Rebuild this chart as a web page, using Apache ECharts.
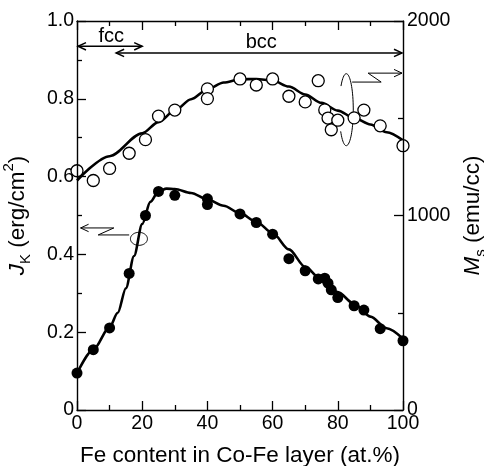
<!DOCTYPE html>
<html>
<head>
<meta charset="utf-8">
<title>Exchange coupling and magnetization vs Fe content</title>
<script src="https://cdn.jsdelivr.net/npm/echarts@6/dist/echarts.min.js"></script>
<style>
  html, body { margin: 0; padding: 0; background: #fff; }
  #wrap { position: relative; width: 484px; height: 466px; }
  #main, #frame { position: absolute; left: 0; top: 0; width: 484px; height: 466px; }
  #frame { pointer-events: none; }
</style>
</head>
<body>
<div id="wrap">
  <div id="main"></div>
  <div id="frame"></div>
</div>
<script>
// Fe content (at.%) of the measured samples
const jkFe = [0, 5, 10, 16, 21, 25, 30, 40, 40, 50, 55, 60, 65, 70, 74, 76, 77, 78, 80, 85, 88, 93, 100];
// Interlayer coupling J_K (erg/cm^2), filled circles, left axis
const jkVal = [0.095, 0.155, 0.211, 0.351, 0.500, 0.562, 0.552, 0.543, 0.528, 0.504, 0.482, 0.452,
               0.389, 0.358, 0.337, 0.339, 0.326, 0.309, 0.289, 0.268, 0.257, 0.209, 0.178];

const msFe = [0, 5, 10, 16, 21, 25, 30, 40, 40, 50, 55, 60, 65, 70, 74, 76, 77, 78, 80, 85, 88, 93, 100];
// Saturation magnetization M_s (emu/cc), open circles, right axis
const msVal = [1230, 1180, 1242, 1320, 1390, 1511, 1542, 1651, 1601, 1702, 1671, 1702,
               1613, 1584, 1693, 1543, 1501, 1441, 1490, 1502, 1542, 1461, 1359];

// Guide curve drawn through the J_K data
const jkFitFe  = [0, 5, 10, 12.5, 15, 17.5, 20, 22.5, 25, 27.5, 30, 35, 40, 45, 50, 55, 60, 65, 70, 75, 80, 85, 90, 95, 100];
const jkFitVal = [0.094, 0.155, 0.213, 0.250, 0.313, 0.396, 0.478, 0.535, 0.562, 0.569, 0.568, 0.558, 0.541,
                  0.525, 0.506, 0.484, 0.455, 0.413, 0.368, 0.335, 0.303, 0.273, 0.240, 0.210, 0.183];

// Guide curve drawn through the M_s data
const msFitFe  = [0, 10, 20, 25, 30, 35, 40, 45, 50, 55, 60, 65, 70, 75, 80, 85, 90, 95, 100];
const msFitVal = [1180, 1305, 1423, 1480, 1540, 1598, 1648, 1684, 1700, 1702, 1694, 1663, 1622, 1579,
                  1539, 1502, 1468, 1428, 1386];

// Tick labels
const feTickLabels = ['0', '20', '40', '60', '80', '100'];
const jkTickLabels = ['0', '0.2', '0.4', '0.6', '0.8', '1.0'];
const msTickLabels = ['0', '1000', '2000'];

// Phase ranges (Fe at.%)
const fccRange = [0, 20];
const bccRange = [12, 100];

const FONT = '"Liberation Sans", Arial, Helvetica, sans-serif';
const INK = '#000';
const FE_STEP = 20, JK_STEP = 0.2, MS_STEP = 1000, MS_MAX = 2000;
const GRID = { left: 77, right: 81, top: 21, bottom: 56, outerBoundsMode: 'none' };

function zip(xs, ys) { return xs.map((x, i) => [x, ys[i]]); }

function labelFont(extra) {
  return Object.assign({ show: true, color: INK, fontSize: 19.5, fontFamily: FONT }, extra);
}
function nameRich() {
  return {
    n:   { fontSize: 22.5, fontFamily: FONT, color: INK, verticalAlign: 'bottom', padding: [0, 0, 4, 0] },
    i:   { fontSize: 22.5, fontFamily: FONT, color: INK, fontStyle: 'italic', verticalAlign: 'bottom', padding: [0, 0, 4, 0] },
    sub: { fontSize: 15, fontFamily: FONT, color: INK, verticalAlign: 'bottom', padding: [0, 0, 0, 0] },
    sup: { fontSize: 15, fontFamily: FONT, color: INK, verticalAlign: 'bottom', padding: [0, 0, 17, 0] }
  };
}
const noLine = { show: false };

// ---- annotation helpers (pixel geometry around data anchors) ----
function head(tip, dir) {
  // open V arrowhead; dir = 1 points right, -1 points left
  return [[tip[0] - dir * 8, tip[1] - 3.7], tip, [tip[0] - dir * 8, tip[1] + 3.7]];
}
function arcPts(c, rx, ry, a0, a1) {
  const pts = [];
  const n = 60;
  for (let k = 0; k <= n; k++) {
    const t = (a0 + (a1 - a0) * k / n) * Math.PI / 180;
    pts.push([c[0] + rx * Math.cos(t), c[1] + ry * Math.sin(t)]);
  }
  return pts;
}
function poly(points, width) {
  return { type: 'polyline', shape: { points: points },
           style: { stroke: INK, lineWidth: width, fill: null } };
}
function label(text, at) {
  return { type: 'text', x: at[0], y: at[1],
           style: { text: text, fill: INK, fontSize: 20, fontFamily: FONT,
                    align: 'center', verticalAlign: 'middle' } };
}

function renderNotes(params, api) {
  const P = (fe, jk) => api.coord([fe, jk]);
  const els = [];

  // fcc / bcc phase ranges
  const fccY = 0.935, bccY = 0.918;
  const fA = P(fccRange[0], fccY), fB = P(fccRange[1], fccY);
  fA[0] += 1;
  els.push(poly([fA, fB], 1.5), poly(head(fA, -1), 1.5), poly(head(fB, 1), 1.5));
  const bA = P(bccRange[0], bccY), bB = P(bccRange[1], bccY);
  bB[0] -= 1;
  els.push(poly([bA, bB], 1.5), poly(head(bA, -1), 1.5), poly(head(bB, 1), 1.5));
  els.push(label('fcc', P(10.5, 0.961)), label('bcc', P(56.5, 0.946)));

  // loop on the M_s curve pointing to the right axis
  els.push(poly(arcPts(P(82.6, 0.772), 7, 36, 221, 503), 1));
  const m4 = P(100, 0.866);
  m4[0] -= 1;
  els.push(poly([P(84.4, 0.843), P(93.3, 0.843), P(89.3, 0.866), m4], 1), poly(head(m4, 1), 1));

  // loop on the J_K curve pointing to the left axis
  els.push(poly(arcPts(P(19.0, 0.440), 8.5, 6.5, 160, 520), 1));
  const j1 = P(1.1, 0.468);
  els.push(poly([j1, P(11.3, 0.468), P(6.5, 0.450), P(16.0, 0.450)], 1), poly(head(j1, -1), 1));

  return { type: 'group', children: els };
}

// ---- data layer: labels, titles, curves, points, annotations ----
const option = {
  animation: false,
  grid: GRID,
  xAxis: [
    {
      type: 'value', position: 'bottom', min: 0, max: 100, interval: FE_STEP,
      axisLine: noLine, axisTick: noLine, minorTick: noLine,
      splitLine: noLine, minorSplitLine: noLine,
      axisLabel: labelFont({ margin: 4, formatter: v => feTickLabels[Math.round(v / FE_STEP)] }),
      name: 'Fe content in Co-Fe layer (at.%)',
      nameLocation: 'middle', nameGap: 34,
      nameTextStyle: { color: INK, fontSize: 22.5, fontFamily: FONT }
    }
  ],
  yAxis: [
    {
      type: 'value', position: 'left', min: 0, max: 1, interval: JK_STEP,
      axisLine: noLine, axisTick: noLine, minorTick: noLine,
      splitLine: noLine, minorSplitLine: noLine,
      axisLabel: labelFont({ margin: 3, formatter: v => jkTickLabels[Math.round(v / JK_STEP)] }),
      name: '{i|J}{sub|K}{n| (erg/cm}{sup|2}{n|)}',
      nameLocation: 'middle', nameGap: 44,
      nameTextStyle: { rich: nameRich() }
    },
    {
      type: 'value', position: 'right', min: 0, max: MS_MAX, interval: MS_STEP,
      axisLine: noLine, axisTick: noLine, minorTick: noLine,
      splitLine: noLine, minorSplitLine: noLine,
      axisLabel: labelFont({ margin: 4, formatter: v => msTickLabels[Math.round(v / MS_STEP)] }),
      name: '{i|M}{sub|s}{n| (emu/cc)}',
      nameLocation: 'middle', nameGap: 56,
      nameTextStyle: { rich: nameRich() }
    }
  ],
  series: [
    {
      name: 'J_K fit', type: 'line', xAxisIndex: 0, yAxisIndex: 0,
      data: zip(jkFitFe, jkFitVal), smooth: 0.3, smoothMonotone: 'x',
      symbol: 'none', lineStyle: { color: INK, width: 2.6 }, z: 2
    },
    {
      name: 'M_s fit', type: 'line', xAxisIndex: 0, yAxisIndex: 1,
      data: zip(msFitFe, msFitVal), smooth: 0.3, smoothMonotone: 'x',
      symbol: 'none', lineStyle: { color: INK, width: 2.6 }, z: 2
    },
    {
      name: 'J_K', type: 'scatter', xAxisIndex: 0, yAxisIndex: 0,
      data: zip(jkFe, jkVal), symbol: 'circle', symbolSize: 11,
      itemStyle: { color: INK, opacity: 1 }, z: 3
    },
    {
      name: 'M_s', type: 'scatter', xAxisIndex: 0, yAxisIndex: 1,
      data: zip(msFe, msVal), symbol: 'circle', symbolSize: 12,
      itemStyle: { color: '#fff', borderColor: INK, borderWidth: 1.3, opacity: 1 }, z: 4
    },
    {
      name: 'notes', type: 'custom', xAxisIndex: 0, yAxisIndex: 0,
      data: [[0, 0]], renderItem: renderNotes, silent: true, clip: false, z: 1
    }
  ]
};

// ---- frame layer: the four axis lines with inward ticks ----
function frameAxis(extra) {
  return Object.assign({
    type: 'value',
    axisLine: { show: true, onZero: false, lineStyle: { color: INK, width: 1.4 } },
    axisTick: { show: true, inside: true, length: 9, lineStyle: { color: INK, width: 1.3 } },
    minorTick: { show: true, splitNumber: 2, length: 5, lineStyle: { color: INK, width: 1.3 } },
    axisLabel: { show: false },
    splitLine: { show: false }
  }, extra);
}
const frameOption = {
  animation: false,
  backgroundColor: 'transparent',
  grid: GRID,
  xAxis: [
    frameAxis({ position: 'bottom', min: 0, max: 100, interval: FE_STEP }),
    frameAxis({ position: 'top', min: 0, max: 100, interval: FE_STEP })
  ],
  yAxis: [
    frameAxis({ position: 'left', min: 0, max: 1, interval: JK_STEP }),
    frameAxis({ position: 'right', min: 0, max: MS_MAX, interval: MS_STEP })
  ],
  series: []
};

const chart = echarts.init(document.getElementById('main'), null, { renderer: 'canvas' });
chart.setOption(option);
const frame = echarts.init(document.getElementById('frame'), null, { renderer: 'canvas' });
frame.setOption(frameOption);
</script>
</body>
</html>
